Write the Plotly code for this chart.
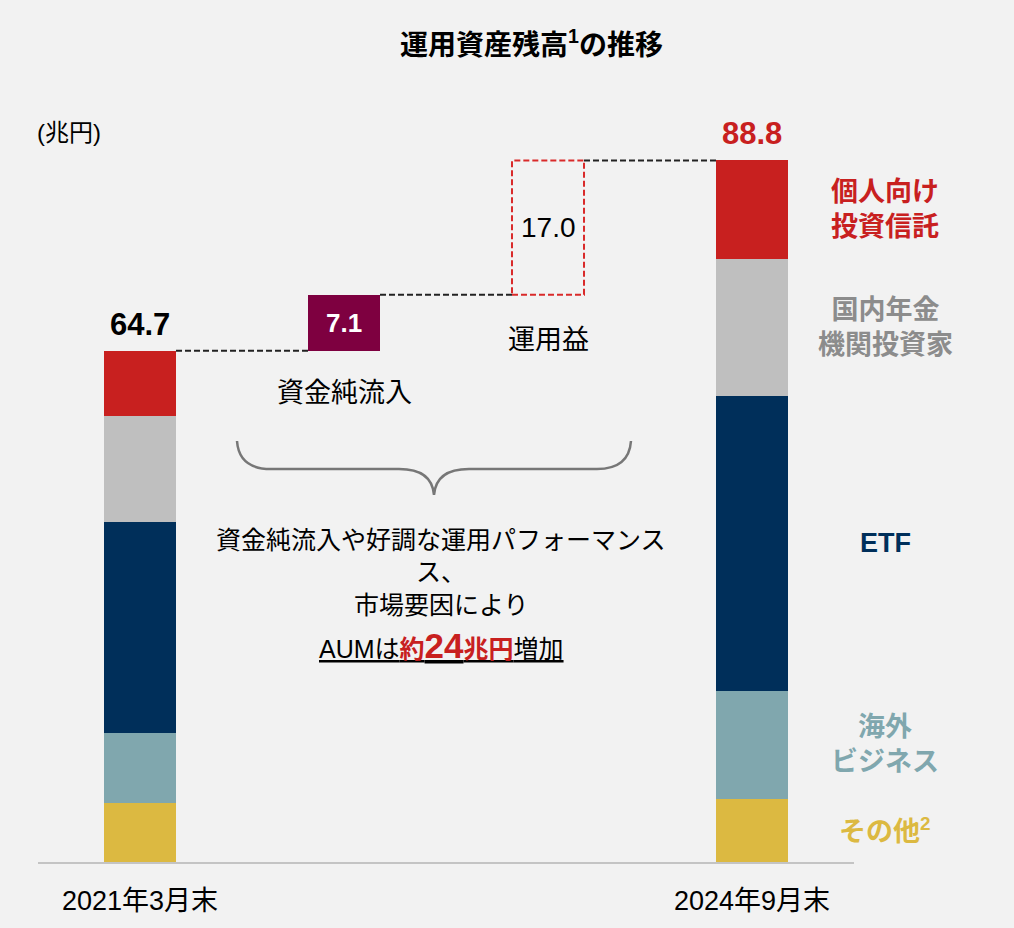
import plotly.graph_objects as go

# 運用資産残高 (兆円)
segments = ["その他", "海外ビジネス", "ETF", "国内年金機関投資家", "個人向け投資信託"]
seg_labels = ["その他<sup>2</sup>", "海外<br>ビジネス", "ETF", "国内年金<br>機関投資家", "個人向け<br>投資信託"]
seg_colors = ["#dcb941", "#80a7ae", "#002f5a", "#bfbfbf", "#c8201f"]
label_colors = ["#dcb941", "#80a7ae", "#002f5a", "#8c8c8c", "#c8201f"]
start_vals = [7.5, 8.8, 26.7, 13.5, 8.2]
end_vals = [8.0, 13.7, 37.3, 17.3, 12.5]
periods = ["2021年3月末", "2024年9月末"]
start_total = 64.7
end_total = 88.8
net_inflow = 7.1
inv_gain = 17.0

FONT = "Liberation Sans, Noto Sans CJK JP, sans-serif"
W = 0.353  # bar width
xs = [0, 1, 2, 3]

fig = go.Figure()

for name, c, a, b in zip(segments, seg_colors, start_vals, end_vals):
    fig.add_trace(go.Bar(x=[xs[0], xs[3]], y=[a, b], name=name, width=W,
                         marker=dict(color=c, line=dict(width=0)),
                         showlegend=False, hoverinfo="skip"))

# net inflow box (waterfall step)
fig.add_trace(go.Bar(x=[xs[1]], y=[net_inflow], base=[start_total], width=W,
                     marker=dict(color="#7e0040", line=dict(width=0)),
                     showlegend=False, hoverinfo="skip"))

# investment gain: dashed box
mid = start_total + net_inflow
fig.add_shape(type="rect", xref="x", yref="y", x0=xs[2] - W / 2, x1=xs[2] + W / 2,
              y0=mid, y1=mid + inv_gain, layer="above",
              line=dict(color="#d92a2a", width=2, dash="6px,3px"))

# connectors
for x0, x1, yv in [(xs[0], xs[1], start_total), (xs[1], xs[2], mid), (xs[2], xs[3], end_total)]:
    fig.add_trace(go.Scatter(x=[x0 + W / 2, x1 - W / 2], y=[yv, yv], mode="lines",
                             line=dict(color="#222222", width=2, dash="6px,3px"),
                             showlegend=False, hoverinfo="skip"))


# pixel geometry helpers (for decoration placement)
def px(x):
    return (x - 141) / 204.0


def py(y):
    return (862 - y) / 7.9


def ppx(x):
    return (x - 38) / 816.0


ann = []
ann.append(dict(x=xs[0], y=start_total, text="<b>64.7</b>", yanchor="bottom", yshift=7,
                font=dict(size=31, color="#000000")))
ann.append(dict(x=xs[3], y=end_total, text="<b>88.8</b>", yanchor="bottom", yshift=7,
                font=dict(size=31, color="#c8201f")))
ann.append(dict(x=xs[1], y=start_total + net_inflow / 2, text="<b>7.1</b>",
                font=dict(size=26, color="#ffffff")))
ann.append(dict(x=xs[2], y=mid + inv_gain / 2, text="17.0",
                font=dict(size=28, color="#000000")))
ann.append(dict(x=xs[1], y=py(393), text="資金純流入",
                font=dict(size=27, color="#000000")))
ann.append(dict(x=xs[2], y=py(340), text="運用益",
                font=dict(size=27, color="#000000")))

# right-side segment labels
cum = 0
for lab, c, v in zip(seg_labels, label_colors, end_vals):
    ann.append(dict(xref="paper", x=ppx(885), y=cum + v / 2, text="<b>" + lab + "</b>",
                    font=dict(size=27, color=c)))
    cum += v

# summary text
for t, yy in [("資金純流入や好調な運用パフォーマンス", 540), ("ス、", 572), ("市場要因により", 605)]:
    ann.append(dict(x=px(442), y=py(yy), text=t, font=dict(size=25, color="#000000")))
ann.append(dict(x=px(442), y=py(645),
                text="<u>AUMは</u><u><span style='color:#c8201f;font-weight:bold'>約"
                     "<span style='font-size:35px'>24</span>兆円</span></u><u>増加</u>",
                font=dict(size=25, color="#000000")))

# period labels
for x, t in zip([xs[0], xs[3]], periods):
    ann.append(dict(x=x, y=0, yshift=-39, text=t,
                    font=dict(size=27, color="#000000")))

ann.append(dict(xref="paper", yref="paper", x=ppx(35), y=(862 - 133) / 790.0, xanchor="left",
                text="(兆円)", font=dict(size=24, color="#000000")))
ann.append(dict(xref="paper", yref="paper", x=ppx(531), y=1.0, yshift=29,
                text="<b>運用資産残高<sup>1</sup>の推移</b>",
                font=dict(size=28, color="#000000")))

for a in ann:
    a.setdefault("xref", "x")
    a.setdefault("yref", "y")
    a.setdefault("xanchor", "center")
    a.setdefault("yanchor", "middle")
    a["showarrow"] = False

# curly brace under the flows
brace = (f"M {px(238)},{py(441)} Q {px(240)},{py(469)} {px(272)},{py(469)} "
         f"L {px(400)},{py(469)} Q {px(433)},{py(469)} {px(435)},{py(495)} "
         f"Q {px(437)},{py(469)} {px(470)},{py(469)} "
         f"L {px(598)},{py(469)} Q {px(630)},{py(469)} {px(632)},{py(441)}")
fig.add_shape(type="path", xref="x", yref="y", path=brace,
              line=dict(color="#777777", width=2.5))

fig.update_layout(
    width=1014, height=928,
    barmode="stack", bargap=0,
    paper_bgcolor="#f2f2f2", plot_bgcolor="#f2f2f2",
    margin=dict(l=38, r=160, t=72, b=66),
    font=dict(family=FONT),
    annotations=ann,
    xaxis=dict(range=[-0.5, 3.5], showgrid=False, zeroline=False, showticklabels=False,
               showline=True, linecolor="#c4c4c4", linewidth=2, fixedrange=True),
    yaxis=dict(range=[0, 100], visible=False, fixedrange=True),
)

fig.write_html("out.html", config={"displayModeBar": False},
               post_script="document.body.style.margin='0px';")
